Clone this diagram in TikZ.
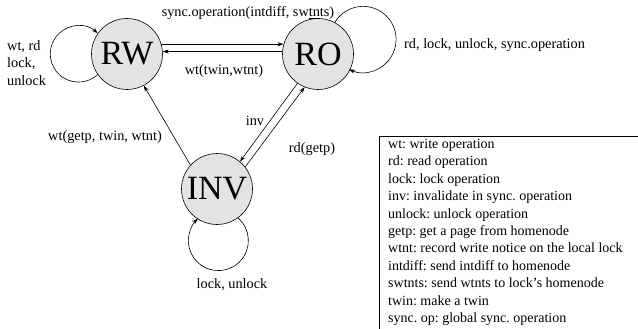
\documentclass[tikz,border=0pt]{standalone}
\usepackage{fontspec}
\setmainfont{Liberation Serif}
\usetikzlibrary{arrows.meta}
\frenchspacing
\begin{document}
\begin{tikzpicture}[x=1pt,y=1pt,
  state/.style={circle,draw,line width=0.6pt,fill=gray!22,minimum size=71pt,inner sep=0pt,font=\fontsize{34}{36}\selectfont},
  lbl/.style={font=\fontsize{14.3}{17}\selectfont,inner sep=0pt},
  tr/.style={-{Stealth[length=6pt,width=4pt]},line width=0.6pt},
  legend/.style={font=\fontsize{14}{17.4}\selectfont,inner sep=0pt,align=left,anchor=north west}]
\useasboundingbox (0,0) rectangle (638,-329);
\node[state] (RW) at (127,-54) {RW};
\node[state] (RO) at (318,-54) {RO};
\node[state] (INV) at (217,-189) {INV};
% transitions between states
\draw[tr] (RW.16) -- (RO.164);
\draw[tr] (RO.176) -- (RW.4);
\draw[tr] (INV.138) -- (RW.-62);
\draw[tr] (RO.235) -- (INV.50);
\draw[tr] (INV.38) -- (RO.248);
% self loops
\draw[tr] (RW.215) arc[start angle=-47, end angle=-313, radius=28.2];
\draw[tr] (RO.62) arc[start angle=149, end angle=-115, radius=33];
\draw[tr] (INV.-54) arc[start angle=49, end angle=-227, radius=30];
% labels
\node[lbl] (l1) at (248,-13) {sync.operation(intdiff, sw\underline{tn}ts)};
\node[lbl] (l2) at (224,-71) {wt(twin,wtnt)};
\node[lbl,anchor=west] (l3) at (7,-47) {wt, rd};
\node[lbl,anchor=west] (l4) at (7,-64) {lock,};
\node[lbl,anchor=west] (l5) at (7,-81) {unlock};
\node[lbl,anchor=west] (l6) at (404,-45) {rd, lock, unlock, sync.operation};
\node[lbl] (l7) at (105,-137) {wt(getp, twin, wtnt)};
\node[lbl] (l8) at (255,-121) {inv};
\node[lbl] (l9) at (312,-149) {rd(getp)};
\node[lbl] (l10) at (232,-285) {lock, unlock};
% legend box
\draw[line width=0.8pt] (379,-329) -- (379,-136) -- (640,-136);
\node[legend] (leg) at (388,-139) {wt: write operation\\
rd: read operation\\
lock: lock operation\\
inv: invalidate in sync. operation\\
unlock: unlock operation\\
getp: get a page from homenode\\
wtnt: record write notice on the local lock\\
intdiff: send intdiff to homenode\\
swtnts: send wtnts to lock's homenode\\
twin: make a twin\\
sync. op: global sync. operation};
\end{tikzpicture}
\end{document}
